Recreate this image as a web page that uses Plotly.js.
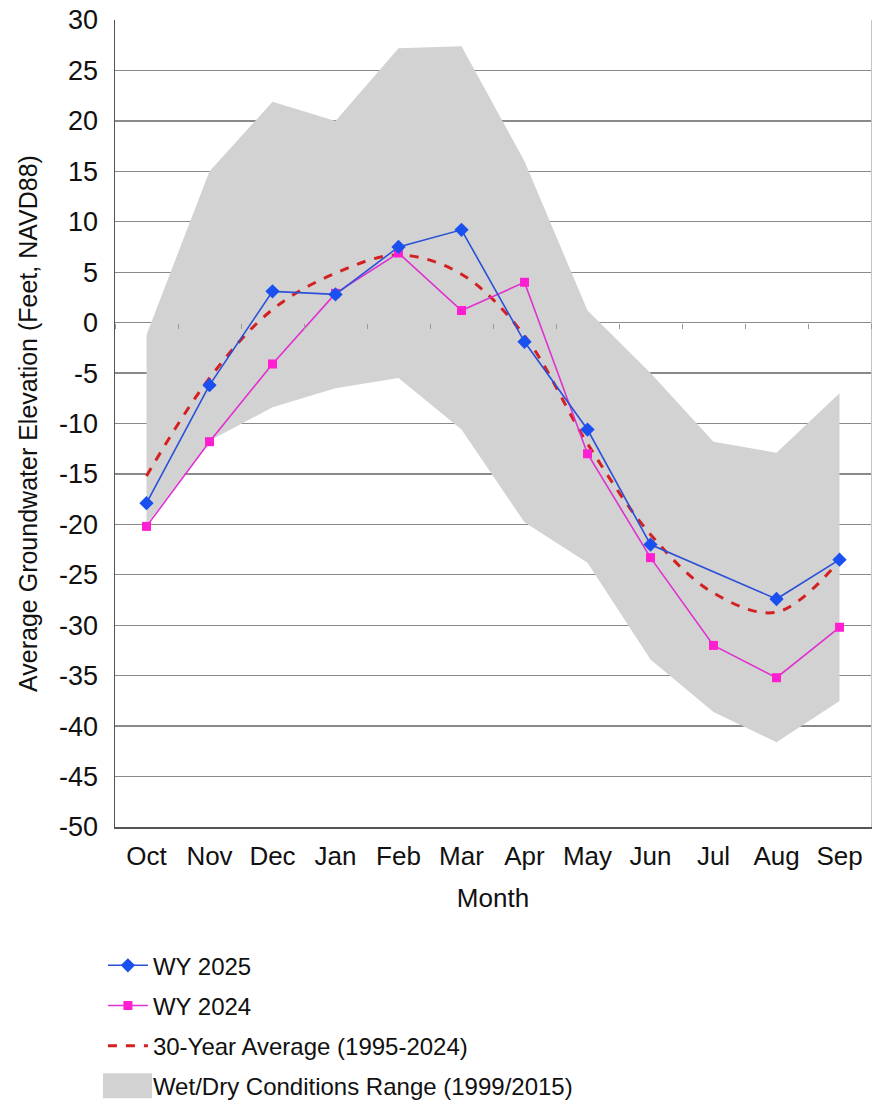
<!DOCTYPE html>
<html>
<head>
<meta charset="utf-8">
<script src="https://cdn.plot.ly/plotly-3.0.1.min.js"></script>
<style>html,body{margin:0;padding:0;background:#fff;}#chart{width:872px;height:1103px;}</style>
</head>
<body>
<div id="chart"></div>
<script>
var months = ["Oct","Nov","Dec","Jan","Feb","Mar","Apr","May","Jun","Jul","Aug","Sep"];
var wy2025 = [-17.9, -6.2, 3.1, 2.8, 7.5, 9.2, -1.9, -10.6, -22.0, null, -27.4, -23.5];
var wy2024 = [-20.2, -11.8, -4.1, 2.9, 6.9, 1.2, 4.0, -13.0, -23.3, -32.0, -35.2, -30.2];
var avg30 = [-15.2, -5.5, 1.3, 4.9, 6.7, 4.8, -1.3, -12.0, -21.0, -26.8, -28.7, -23.6];
var rangeUpper = [-1.2, 15.0, 21.9, 20.0, 27.2, 27.4, 16.0, 1.2, -5.0, -11.8, -12.9, -7.0];
var rangeLower = [-20.0, -11.7, -8.4, -6.5, -5.5, -10.6, -19.8, -23.8, -33.4, -38.6, -41.6, -37.5];
var yTicks = [30,25,20,15,10,5,0,-5,-10,-15,-20,-25,-30,-35,-40,-45,-50];

var FONT = "'Liberation Sans Narrow', 'Arial Narrow', Arial, sans-serif";

var polyX = months.concat(months.slice().reverse());
var polyY = rangeUpper.concat(rangeLower.slice().reverse());

var traces = [
  {
    x: polyX, y: polyY, type: "scatter", mode: "lines", fill: "toself",
    fillcolor: "#d2d2d2", line: {width: 0, color: "#d2d2d2"},
    name: "Wet/Dry Conditions Range (1999/2015)", legendrank: 4, legendgroup: "d",
    hoverinfo: "skip"
  },
  {
    x: months, y: avg30, type: "scatter", mode: "lines",
    line: {color: "#d42020", width: 3, dash: "dash", shape: "spline", smoothing: 1},
    name: "30-Year Average (1995-2024)", legendrank: 3, legendgroup: "c"
  },
  {
    x: months, y: wy2024, type: "scatter", mode: "lines+markers",
    line: {color: "#e030d0", width: 1.6},
    marker: {symbol: "square", size: 9, color: "#ff1fd0"},
    name: "WY 2024", legendrank: 2, legendgroup: "b"
  },
  {
    x: months, y: wy2025, type: "scatter", mode: "lines+markers", connectgaps: true,
    line: {color: "#2a50d8", width: 1.6},
    marker: {symbol: "diamond", size: 11, color: "#1a4ff0"},
    name: "WY 2025", legendrank: 1, legendgroup: "a"
  },
  {
    x: months, y: wy2024, type: "scatter", mode: "none", xaxis: "x2", yaxis: "y2",
    showlegend: false, hoverinfo: "skip"
  }
];

var layout = {
  width: 872, height: 1103,
  margin: {l: 115, r: 1, t: 20, b: 276, autoexpand: false},
  paper_bgcolor: "#ffffff", plot_bgcolor: "#ffffff",
  font: {family: FONT, size: 26, color: "#111"},
  showlegend: true,
  xaxis: {
    type: "category", categoryorder: "array", categoryarray: months,
    range: [-0.5, 11.5], automargin: false,
    showgrid: false, zeroline: false,
    showline: true, linecolor: "#555", linewidth: 1.5,
    ticks: "", ticklabelstandoff: 5, tickfont: {family: FONT, size: 26, color: "#111"},
    title: {text: "Month", font: {family: FONT, size: 26, color: "#111"}, standoff: 19}
  },
  xaxis2: {
    type: "category", categoryorder: "array", categoryarray: months,
    range: [-0.5, 11.5], overlaying: "x", anchor: "free", position: 0.625,
    showgrid: false, zeroline: false, showline: false, showticklabels: false,
    ticks: "outside", tickson: "boundaries", ticklen: 5, tickcolor: "#999", tickwidth: 1
  },
  yaxis: {
    range: [-50, 30], tickvals: yTicks, ticktext: yTicks.map(String), automargin: false,
    showgrid: true, gridcolor: "#8a8a8a", gridwidth: 1.3,
    zeroline: false, showline: true, linecolor: "#555", linewidth: 1.5,
    ticks: "", ticklabelstandoff: 10, tickfont: {family: FONT, size: 27, color: "#111"},
    title: {text: "Average Groundwater Elevation (Feet, NAVD88)", font: {family: FONT, size: 25, color: "#111"}, standoff: 14}
  },
  yaxis2: {
    range: [-50, 30], overlaying: "y", side: "right", anchor: "x2",
    showgrid: false, zeroline: false, showticklabels: false, ticks: "",
    showline: true, linecolor: "#c4c4c4", linewidth: 1.5
  },
  legend: {
    x: -0.016, xanchor: "left", y: -0.144, yanchor: "top",
    orientation: "v", traceorder: "grouped", tracegroupgap: 6,
    font: {family: FONT, size: 24, color: "#111"},
    bgcolor: "rgba(0,0,0,0)", itemwidth: 40
  },
  shapes: [
    {type: "rect", xref: "paper", yref: "paper", x0: -0.0159, x1: 0.049, y0: -0.336, y1: -0.305,
     fillcolor: "#d2d2d2", line: {width: 0}, layer: "above"}
  ]
};

Plotly.newPlot("chart", traces, layout, {staticPlot: true});
</script>
</body>
</html>
